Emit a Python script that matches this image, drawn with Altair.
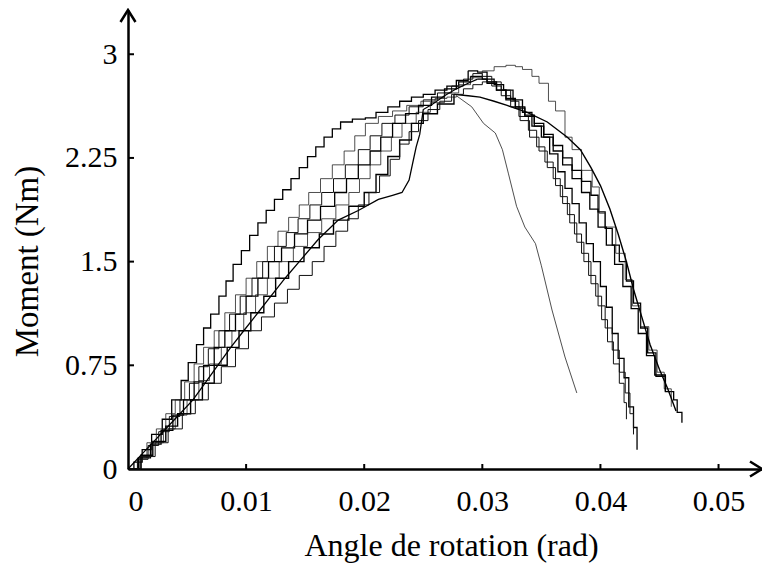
import altair as alt
import pandas as pd

# ---- data ----
x_ticks = [0.0, 0.01, 0.02, 0.03, 0.04, 0.05]
y_ticks = [0.0, 0.75, 1.5, 2.25, 3.0]
x_max = 0.05368
y_max = 3.32

c1_x = [0, 0.0005, 0.0012, 0.0020, 0.0029, 0.0037, 0.0045, 0.0051, 0.0058, 0.0064, 0.0070, 0.0077, 0.0083, 0.0089,
        0.0096, 0.0103, 0.0110, 0.0117, 0.0124, 0.0131, 0.0138, 0.0145, 0.0152, 0.0159, 0.0166, 0.0173, 0.0180,
        0.0190, 0.0201, 0.0210, 0.0220, 0.0230, 0.0240, 0.0250, 0.0260, 0.0270, 0.0280, 0.0290,
        0.0300, 0.0310, 0.0318, 0.0326, 0.0334, 0.0342, 0.0350, 0.0357, 0.0364, 0.0370, 0.0376, 0.0382, 0.0388,
        0.0394, 0.0400, 0.0405, 0.0410, 0.0415, 0.0420, 0.0424, 0.0428, 0.0431]
c1_y = [0, 0.05, 0.14, 0.25, 0.36, 0.50, 0.64, 0.77, 0.90, 1.02, 1.12, 1.25, 1.36, 1.48,
        1.58, 1.69, 1.78, 1.87, 1.95, 2.02, 2.10, 2.18, 2.26, 2.33, 2.40, 2.46, 2.51,
        2.53, 2.54, 2.58, 2.62, 2.66, 2.69, 2.71, 2.74, 2.77, 2.80, 2.84,
        2.82, 2.78, 2.74, 2.67, 2.58, 2.48, 2.40, 2.28, 2.15, 2.03, 1.92, 1.78, 1.63,
        1.50, 1.32, 1.17, 0.98, 0.80, 0.66, 0.45, 0.30, 0.14]

c2_x = [0, 0.0008, 0.0016, 0.0024, 0.0032, 0.0040, 0.0048, 0.0056, 0.0064, 0.0073, 0.0082, 0.0091, 0.0100, 0.0109,
        0.0118, 0.0127, 0.0136, 0.0145, 0.0153, 0.0163, 0.0173, 0.0183, 0.0192, 0.0201, 0.0212, 0.0224, 0.0236,
        0.0248, 0.0260, 0.0270, 0.0278,
        0.0291, 0.0301, 0.0311, 0.0317, 0.0322, 0.0329, 0.0336, 0.0345, 0.0350, 0.0359, 0.0370, 0.0380]
c2_y = [0, 0.08, 0.19, 0.29, 0.40, 0.50, 0.63, 0.76, 0.88, 1.00, 1.13, 1.26, 1.38, 1.50,
        1.61, 1.72, 1.82, 1.91, 2.00, 2.10, 2.20, 2.30, 2.41, 2.50, 2.55, 2.59, 2.63,
        2.66, 2.68, 2.69, 2.70,
        2.62, 2.50, 2.43, 2.31, 2.14, 1.90, 1.75, 1.63, 1.47, 1.15, 0.81, 0.55]

c3_x = [0, 0.0008, 0.0017, 0.0026, 0.0035, 0.0044, 0.0052, 0.0060, 0.0068, 0.0077, 0.0086, 0.0095, 0.0105, 0.0114,
        0.0124, 0.0134, 0.0144, 0.0154, 0.0164, 0.0174, 0.0184, 0.0195, 0.0205, 0.0215, 0.0226, 0.0238, 0.0250,
        0.0262, 0.0274, 0.0284, 0.0292,
        0.0300, 0.0308, 0.0316, 0.0324, 0.0331, 0.0339, 0.0346, 0.0353, 0.0360, 0.0366, 0.0372, 0.0378, 0.0384,
        0.0390, 0.0396, 0.0401, 0.0406, 0.0411, 0.0416, 0.0420, 0.0422]
c3_y = [0, 0.07, 0.17, 0.27, 0.38, 0.50, 0.62, 0.74, 0.87, 1.00, 1.12, 1.25, 1.38, 1.50,
        1.61, 1.71, 1.81, 1.91, 2.00, 2.10, 2.20, 2.31, 2.41, 2.50, 2.56, 2.62, 2.67,
        2.72, 2.77, 2.82, 2.86,
        2.84, 2.80, 2.74, 2.66, 2.55, 2.45, 2.33, 2.22, 2.10, 1.97, 1.84, 1.70, 1.56,
        1.40, 1.25, 1.08, 0.92, 0.76, 0.62, 0.48, 0.36]

c4_x = [0, 0.0009, 0.0019, 0.0028, 0.0038, 0.0047, 0.0056, 0.0064, 0.0073, 0.0082, 0.0091, 0.0100, 0.0110, 0.0119,
        0.0130, 0.0141, 0.0152, 0.0163, 0.0175, 0.0185, 0.0195, 0.0205, 0.0214, 0.0224, 0.0235, 0.0246, 0.0257,
        0.0268, 0.0278, 0.0288,
        0.0296, 0.0304, 0.0312, 0.0320, 0.0328, 0.0336, 0.0344, 0.0352, 0.0360, 0.0368, 0.0376, 0.0384, 0.0392,
        0.0398, 0.0404, 0.0410, 0.0416, 0.0422, 0.0428, 0.0434, 0.0440, 0.0447, 0.0455, 0.0462, 0.0465, 0.0469]
c4_y = [0, 0.08, 0.18, 0.28, 0.39, 0.50, 0.63, 0.75, 0.88, 1.00, 1.12, 1.25, 1.38, 1.50,
        1.60, 1.70, 1.80, 1.90, 2.00, 2.10, 2.20, 2.30, 2.40, 2.50, 2.57, 2.63, 2.69,
        2.75, 2.81, 2.88,
        2.87, 2.80, 2.74, 2.67, 2.61, 2.55, 2.50, 2.42, 2.34, 2.25, 2.16, 2.08, 1.98,
        1.86, 1.74, 1.62, 1.50, 1.36, 1.20, 1.02, 0.84, 0.67, 0.56, 0.50, 0.41, 0.335]

c5_x = [0, 0.0010, 0.0020, 0.0030, 0.0040, 0.0050, 0.0060, 0.0069, 0.0079, 0.0088, 0.0098, 0.0108, 0.0118, 0.0128,
        0.0140, 0.0152, 0.0164, 0.0176, 0.0187, 0.0196, 0.0205, 0.0214, 0.0223, 0.0232, 0.0244, 0.0256, 0.0268,
        0.0280, 0.0290, 0.0300, 0.0310, 0.0320, 0.0328,
        0.0334, 0.0342, 0.0348, 0.0356, 0.0362, 0.0370, 0.0376, 0.0384, 0.0393, 0.0399, 0.0404, 0.0413, 0.0421,
        0.0427, 0.0434, 0.0441, 0.0448, 0.0454, 0.0460]
c5_y = [0, 0.09, 0.19, 0.29, 0.39, 0.50, 0.64, 0.76, 0.88, 1.00, 1.13, 1.26, 1.38, 1.50,
        1.61, 1.71, 1.81, 1.91, 2.00, 2.10, 2.20, 2.30, 2.40, 2.50, 2.58, 2.65, 2.72,
        2.78, 2.83, 2.88, 2.91, 2.92, 2.91,
        2.89, 2.84, 2.79, 2.66, 2.59, 2.40, 2.31, 2.16, 2.04, 1.85, 1.75, 1.56, 1.37,
        1.18, 1.03, 0.86, 0.70, 0.58, 0.45]

c6_x = [0, 0.0011, 0.0021, 0.0032, 0.0042, 0.0053, 0.0063, 0.0073, 0.0084, 0.0094, 0.0104, 0.0115, 0.0125, 0.0136,
        0.0149, 0.0162, 0.0174, 0.0187, 0.0200, 0.0210, 0.0220, 0.0230, 0.0240, 0.0250, 0.0262, 0.0276,
        0.0288, 0.0298, 0.0310, 0.0321, 0.0338, 0.0355, 0.0372, 0.0383, 0.0392, 0.0400, 0.0408, 0.0415, 0.0422,
        0.0428, 0.0435, 0.0442, 0.0450, 0.0457, 0.0464]
c6_y = [0, 0.10, 0.20, 0.31, 0.40, 0.50, 0.62, 0.75, 0.88, 1.00, 1.13, 1.25, 1.38, 1.50,
        1.60, 1.70, 1.80, 1.90, 2.00, 2.13, 2.26, 2.38, 2.50, 2.57, 2.64, 2.71,
        2.70, 2.69, 2.66, 2.63, 2.58, 2.51, 2.40, 2.31, 2.18, 2.05, 1.88, 1.70, 1.50,
        1.30, 1.10, 0.90, 0.72, 0.58, 0.42]

c7_x = [0, 0.0011, 0.0023, 0.0034, 0.0046, 0.0057, 0.0068, 0.0079, 0.0091, 0.0102, 0.0113, 0.0124, 0.0135, 0.0145,
        0.0156, 0.0166, 0.0176, 0.0186, 0.0195, 0.0204, 0.0213, 0.0222, 0.0230, 0.0238, 0.0246, 0.0254, 0.0264,
        0.0274, 0.0284, 0.0292, 0.0300,
        0.0308, 0.0316, 0.0324, 0.0332, 0.0340, 0.0348, 0.0355, 0.0362, 0.0368, 0.0374, 0.0380, 0.0386, 0.0392,
        0.0398, 0.0404, 0.0410, 0.0416, 0.0421, 0.0425, 0.0428]
c7_y = [0, 0.09, 0.19, 0.29, 0.40, 0.50, 0.62, 0.74, 0.87, 1.00, 1.10, 1.20, 1.30, 1.40,
        1.50, 1.61, 1.72, 1.81, 1.91, 2.00, 2.12, 2.24, 2.35, 2.44, 2.52, 2.60, 2.66,
        2.71, 2.75, 2.78, 2.80,
        2.77, 2.70, 2.62, 2.52, 2.40, 2.30, 2.18, 2.05, 1.92, 1.78, 1.64, 1.50, 1.34,
        1.18, 1.02, 0.86, 0.70, 0.55, 0.40, 0.25]

c8_x = [0, 0.0011, 0.0022, 0.0033, 0.0044, 0.0055, 0.0066, 0.0076, 0.0087, 0.0098, 0.0110, 0.0121, 0.0133, 0.0145,
        0.0161, 0.0178, 0.0195, 0.0212, 0.0224, 0.0232, 0.0238, 0.0241, 0.0244, 0.0247, 0.0250, 0.0258, 0.0268,
        0.0278, 0.0288, 0.0296,
        0.0304, 0.0312, 0.0320, 0.0328, 0.0336, 0.0344, 0.0352, 0.0360, 0.0368, 0.0376, 0.0384, 0.0391, 0.0398,
        0.0405, 0.0412, 0.0419, 0.0426, 0.0432, 0.0439, 0.0446, 0.0455]
c8_y = [0, 0.10, 0.20, 0.30, 0.40, 0.50, 0.63, 0.75, 0.88, 1.00, 1.13, 1.25, 1.38, 1.50,
        1.66, 1.80, 1.87, 1.95, 1.98, 2.00, 2.09, 2.21, 2.33, 2.42, 2.60, 2.64, 2.70,
        2.75, 2.79, 2.82,
        2.79, 2.74, 2.68, 2.62, 2.56, 2.48, 2.40, 2.30, 2.20, 2.10, 2.00, 1.88, 1.75,
        1.62, 1.48, 1.32, 1.16, 0.98, 0.82, 0.68, 0.56]

curves = [
    ("c1", c1_x, c1_y),
    ("c2", c2_x, c2_y),
    ("c3", c3_x, c3_y),
    ("c4", c4_x, c4_y),
    ("c5", c5_x, c5_y),
    ("c6", c6_x, c6_y),
    ("c7", c7_x, c7_y),
    ("c8", c8_x, c8_y),
]

# styles (kept separate from data): interpolation of the rising and falling branches
styles = {
    "c1": dict(rise="step-after", fall="step-after", strokeWidth=1.3, color="#000000"),
    "c2": dict(rise="step-after", fall="linear", strokeWidth=0.8, color="#222222"),
    "c3": dict(rise="step-after", fall="step-after", strokeWidth=1.0, color="#111111"),
    "c4": dict(rise="step-after", fall="step-after", strokeWidth=1.3, color="#000000"),
    "c5": dict(rise="step-after", fall="step-after", strokeWidth=0.8, color="#222222"),
    "c6": dict(rise="step-after", fall="linear", strokeWidth=1.4, color="#000000"),
    "c7": dict(rise="step-after", fall="step-after", strokeWidth=1.0, color="#111111"),
    "c8": dict(rise="linear", fall="step-after", strokeWidth=1.3, color="#000000"),
}

W, H = 634, 459
FONT = "Liberation Serif"

xscale = alt.Scale(domain=[0, x_max], nice=False, zero=False)
yscale = alt.Scale(domain=[0, y_max], nice=False, zero=False)

x_axis = alt.Axis(
    values=x_ticks, labelExpr="datum.value + ''", ticks=False, grid=False,
    domain=True, domainColor="black", domainWidth=2.5, labelFont=FONT, labelFontSize=30,
    labelColor="black", labelPadding=17,
    labelAlign={"condition": {"test": "datum.value == 0", "value": "left"}, "value": "center"},
    title="Angle de rotation (rad)", titleFont=FONT, titleFontSize=32,
    titleFontWeight="normal", titleColor="black", titleX=323, titleY=86, titleBaseline="alphabetic",
)
y_axis = alt.Axis(
    values=y_ticks, labelExpr="datum.value + ''", ticks=False, grid=False,
    domain=True, domainColor="black", domainWidth=2.5, labelFont=FONT, labelFontSize=30,
    labelColor="black", labelPadding=11,
    title="Moment (Nm)", titleFont=FONT, titleFontSize=33, titleFontWeight="normal",
    titleColor="black", titleX=-91, titleY=251, titleBaseline="alphabetic", titleAngle=270,
)

X = alt.X("x:Q", scale=xscale, axis=x_axis)
Y = alt.Y("y:Q", scale=yscale, axis=y_axis)

layers = []
for name, xs, ys in curves:
    st = styles[name]
    k = max(range(len(ys)), key=lambda j: ys[j])  # index of the peak
    for part, sl in (("rise", slice(0, k + 1)), ("fall", slice(k, len(xs)))):
        px, py = xs[sl], ys[sl]
        df = pd.DataFrame({"x": px, "y": py, "i": range(len(px))})
        layers.append(
            alt.Chart(df).mark_line(interpolate=st[part], strokeWidth=st["strokeWidth"],
                                    color=st["color"]).encode(x=X, y=Y, order="i:Q")
        )

# inner tick marks
xt = pd.DataFrame({"x": x_ticks[1:]})
yt = pd.DataFrame({"y": y_ticks[1:]})
xtick_layer = alt.Chart(xt).mark_rule(color="black", strokeWidth=2).encode(
    x=X, y=alt.value(H), y2=alt.value(H - 5))
ytick_layer = alt.Chart(yt).mark_rule(color="black", strokeWidth=2).encode(
    y=Y, x=alt.value(0), x2=alt.value(6))

# arrowheads at axis ends
ax_end = pd.DataFrame({"x": [x_max], "y": [0.0]})
ay_end = pd.DataFrame({"x": [0.0], "y": [y_max]})
arrow_x = alt.Chart(ax_end).mark_point(shape="M-1.6,-1L0,0L-1.6,1", size=225, filled=False,
                                       strokeWidth=2.5, color="black", opacity=1).encode(x=X, y=Y)
arrow_y = alt.Chart(ay_end).mark_point(shape="M-1,1.6L0,0L1,1.6", size=225, filled=False,
                                       strokeWidth=2.5, color="black", opacity=1).encode(x=X, y=Y)

chart = alt.layer(*layers, xtick_layer, ytick_layer, arrow_x, arrow_y).properties(
    width=W, height=H,
    autosize=alt.AutoSizeParams(type="none"),
    padding={"left": 120, "top": 2, "right": 0, "bottom": 96},
    background="white",
).configure_view(stroke=None)

chart.save("out.html", embed_options={"renderer": "svg", "actions": False})
